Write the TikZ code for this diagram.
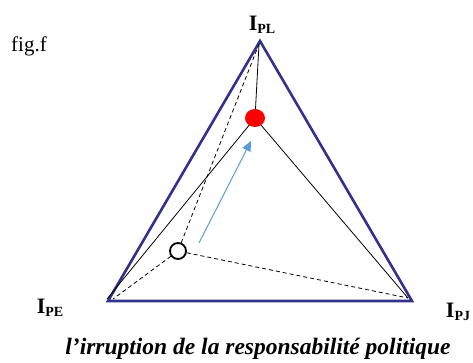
\documentclass[tikz,border=0pt]{standalone}
\usepackage{fontspec}
\setmainfont{Liberation Serif}
\usetikzlibrary{arrows.meta}

\definecolor{cadre}{RGB}{50,50,140}
\definecolor{fleche}{RGB}{91,155,213}

\begin{document}
\begin{tikzpicture}[x=1pt,y=-1pt,
	pole/.style={font=\bfseries\fontsize{22}{22}\selectfont, inner sep=0pt},
	trait/.style={black, line width=0.8pt},
	tiret/.style={black, line width=0.8pt, dash pattern=on 4pt off 3pt}]
	\useasboundingbox (0,0) rectangle (473,362);
	% sommets du triangle
	\coordinate (pl) at (260,41);
	\coordinate (pe) at (108,301);
	\coordinate (pj) at (412,301);
	\coordinate (plh) at (259,44);
	\coordinate (peh) at (113,299);
	\coordinate (pjh) at (408,298);
	\draw[cadre, line width=2.6pt] (pl) -- (pe) -- (pj) -- cycle;
	% points
	\node[draw=none, inner sep=0pt] (rouge) at (255,118) {};
	\node[circle, draw, line width=1.8pt, minimum size=16pt, inner sep=0pt] (depart) at (178,251) {};
	% liens
	\draw[trait] (plh) -- (rouge);
	\draw[trait] (rouge) -- (107,299) coordinate (pes);
	\draw[trait] (rouge) -- (pjh);
	\draw[tiret] (depart) -- (plh);
	\draw[tiret] (depart) -- (peh);
	\draw[tiret] (depart) -- (pjh);
	\fill[red] (rouge) ellipse (10pt and 9pt);
	% fleche
	\coordinate (a1) at (199,243);
	\coordinate (a2) at (251,141);
	\draw[fleche, line width=1pt, -{Triangle[length=10pt,width=9pt]}] (a1) -- (a2);
	% textes
	\node[pole] (lpl) at (262,25) {I\raisebox{-0.25ex}{\fontsize{14}{14}\selectfont PL}};
	\node[pole] (lpe) at (50,308) {I\raisebox{-0.25ex}{\fontsize{14}{14}\selectfont PE}};
	\node[pole] (lpj) at (458,312) {I\raisebox{-0.25ex}{\fontsize{14}{14}\selectfont PJ}};
	\node[font=\fontsize{21}{21}\selectfont] (fig) at (29,46) {fig.f};
	\node[font=\bfseries\itshape\fontsize{23.5}{23.5}\selectfont] (titre) at (258,349) {l’irruption de la responsabilité politique};
\end{tikzpicture}
\end{document}
